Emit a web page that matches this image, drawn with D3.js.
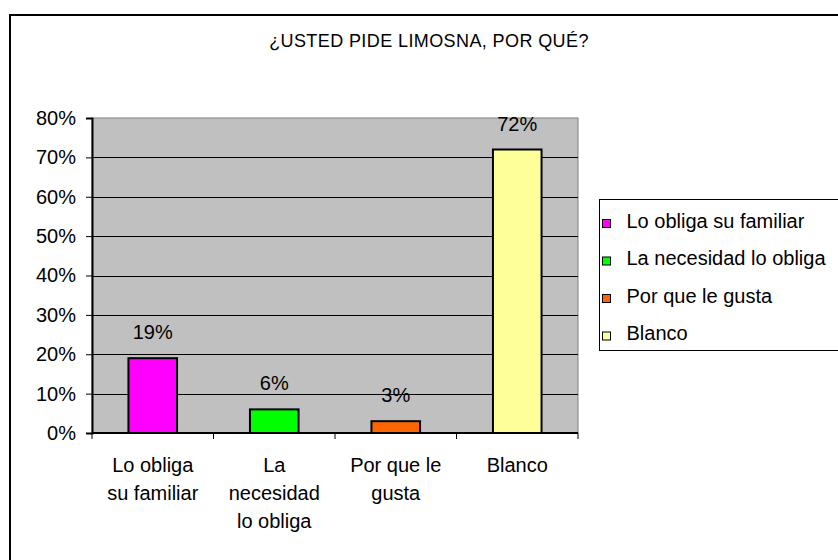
<!DOCTYPE html>
<html>
<head>
<meta charset="utf-8">
<script src="https://cdn.jsdelivr.net/npm/d3@7"></script>
<style>
  body { margin: 0; background: #fff; }
  text { font-family: "Liberation Sans", Arial, sans-serif; fill: #000; }
</style>
</head>
<body>
<div id="chart"></div>
<script>
const w = 838;
const h = 560;

// data
const categories = ["Lo obliga su familiar", "La necesidad lo obliga", "Por que le gusta", "Blanco"];
const axisLabels = [["Lo obliga", "su familiar"], ["La", "necesidad", "lo obliga"], ["Por que le", "gusta"], ["Blanco"]];
const values = [0.19, 0.06, 0.03, 0.72];
const barColors = ["#ff00ff", "#00ff00", "#ff6600", "#ffff99"];
const yTicks = [0, 0.1, 0.2, 0.3, 0.4, 0.5, 0.6, 0.7, 0.8];
const title = "¿USTED PIDE LIMOSNA, POR QUÉ?";

const svg = d3.select("#chart").append("svg")
  .attr("width", w)
  .attr("height", h);

// outer frame (runs off right/bottom edge)
svg.append("rect")
  .attr("x", 10).attr("y", 15)
  .attr("width", w + 10).attr("height", h + 10)
  .attr("fill", "#fff")
  .attr("stroke", "#000")
  .attr("stroke-width", 2);

svg.append("text")
  .attr("x", 429).attr("y", 47)
  .attr("text-anchor", "middle")
  .style("font-size", "18px")
  .style("letter-spacing", "0.4px")
  .text(title);

const plot = { left: 92, top: 118, right: 578, bottom: 433 };

const x = d3.scaleBand()
  .domain(categories)
  .range([plot.left, plot.right])
  .paddingInner(0.6)
  .paddingOuter(0.3);

const y = d3.scaleLinear()
  .domain([0, 0.8])
  .range([plot.bottom, plot.top]);

// plot area
svg.append("rect")
  .attr("x", plot.left).attr("y", plot.top)
  .attr("width", plot.right - plot.left).attr("height", plot.bottom - plot.top)
  .attr("fill", "#c0c0c0")
  .attr("stroke", "#808080")
  .attr("stroke-width", 1);

// gridlines
svg.append("g").selectAll("line")
  .data(yTicks.filter(d => d > 0 && d < 0.8))
  .enter().append("line")
  .attr("x1", plot.left).attr("x2", plot.right)
  .attr("y1", d => Math.round(y(d)) + 0.5).attr("y2", d => Math.round(y(d)) + 0.5)
  .attr("stroke", "#000")
  .attr("stroke-width", 1);

// bars
svg.append("g").selectAll("rect")
  .data(values)
  .enter().append("rect")
  .attr("x", (d, i) => x(categories[i]))
  .attr("y", d => y(d))
  .attr("width", x.bandwidth())
  .attr("height", d => plot.bottom - y(d))
  .attr("fill", (d, i) => barColors[i])
  .attr("stroke", "#000")
  .attr("stroke-width", 2);

// value labels
svg.append("g").selectAll("text")
  .data(values)
  .enter().append("text")
  .attr("x", (d, i) => x(categories[i]) + x.bandwidth() / 2)
  .attr("y", d => y(d) - 19)
  .attr("text-anchor", "middle")
  .style("font-size", "20px")
  .text(d => Math.round(d * 100) + "%");

// y axis
const yAxis = d3.axisLeft(y)
  .tickValues(yTicks)
  .tickFormat(d3.format(".0%"))
  .tickSize(6)
  .tickPadding(10);

const gy = svg.append("g")
  .attr("transform", `translate(${plot.left},0)`)
  .call(yAxis);
gy.select(".domain").attr("stroke", "#000").attr("stroke-width", 2);
gy.selectAll(".tick line").attr("stroke", "#000");
gy.selectAll(".tick text")
  .style("font-size", "20px")
  .style("font-family", "'Liberation Sans', Arial, sans-serif")
  .attr("fill", "#000");

// x axis line + ticks between categories
const bandStep = (plot.right - plot.left) / categories.length;
svg.append("line")
  .attr("x1", plot.left).attr("x2", plot.right)
  .attr("y1", plot.bottom).attr("y2", plot.bottom)
  .attr("stroke", "#000").attr("stroke-width", 2);

svg.append("g").selectAll("line")
  .data(d3.range(categories.length + 1))
  .enter().append("line")
  .attr("x1", i => plot.left + i * bandStep).attr("x2", i => plot.left + i * bandStep)
  .attr("y1", plot.bottom).attr("y2", plot.bottom + 6)
  .attr("stroke", "#000");

// category labels
const catLabel = svg.append("g").selectAll("text")
  .data(categories)
  .enter().append("text")
  .attr("text-anchor", "middle")
  .style("font-size", "20px");

catLabel.selectAll("tspan")
  .data((d, i) => axisLabels[i].map(s => ({ s: s, cx: x(d) + x.bandwidth() / 2 })))
  .enter().append("tspan")
  .attr("x", d => d.cx)
  .attr("y", (d, i) => 472 + i * 28)
  .text(d => d.s);

// legend
const legend = svg.append("g");
legend.append("rect")
  .attr("x", 599.5).attr("y", 199.5)
  .attr("width", 260).attr("height", 151)
  .attr("fill", "#fff")
  .attr("stroke", "#000")
  .attr("stroke-width", 1);

const item = legend.selectAll("g")
  .data(categories)
  .enter().append("g")
  .attr("transform", (d, i) => `translate(602.5,${219.5 + i * 37.5})`);

item.append("rect")
  .attr("width", 8).attr("height", 8)
  .attr("fill", (d, i) => barColors[i])
  .attr("stroke", "#000")
  .attr("stroke-width", 1);

item.append("text")
  .attr("x", 24).attr("y", 8)
  .style("font-size", "20px")
  .text(d => d);
</script>
</body>
</html>
